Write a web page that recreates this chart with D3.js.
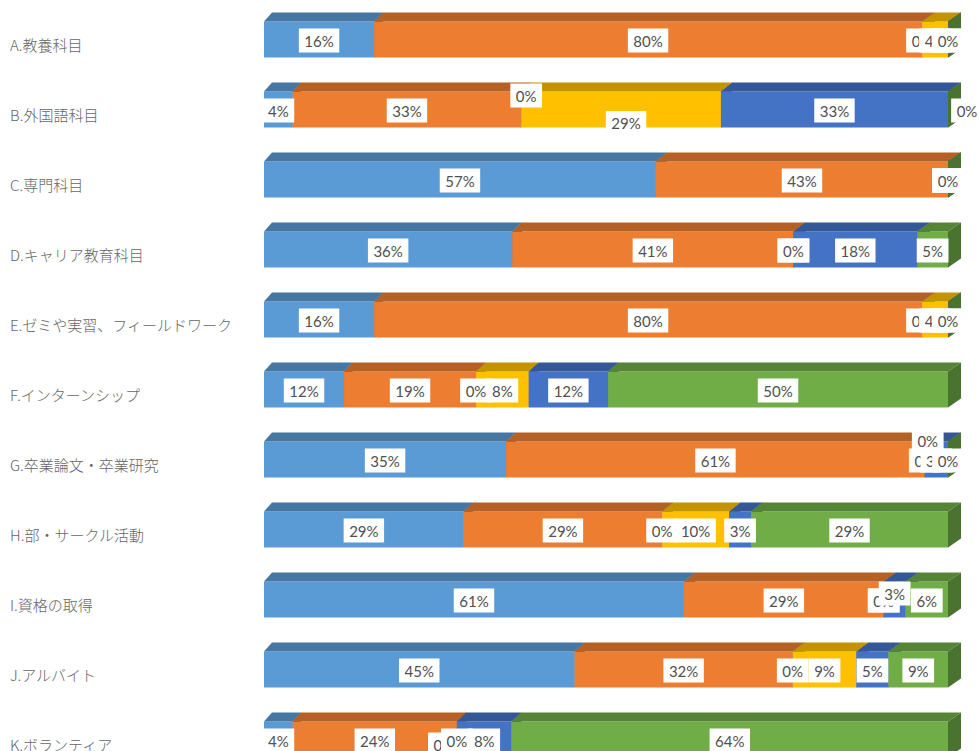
<!DOCTYPE html>
<html>
<head>
<meta charset="utf-8">
<script src="https://cdn.jsdelivr.net/npm/d3@7"></script>
<style>
  body { margin: 0; background: #fff; }
  #chart { width: 979px; height: 751px; overflow: hidden; }
  svg { display: block; }
</style>
</head>
<body>
<div id="chart"></div>
<script>
const categories = [
  "A.教養科目", "B.外国語科目", "C.専門科目", "D.キャリア教育科目",
  "E.ゼミや実習、フィールドワーク", "F.インターンシップ", "G.卒業論文・卒業研究",
  "H.部・サークル活動", "I.資格の取得", "J.アルバイト", "K.ボランティア"
];

const seriesKeys = ["s1", "s2", "s3", "s4", "s5", "s6"];

// percent values per series, one per category
const s1 = [16.1, 4.2, 57.3, 36.3, 16.1, 11.7, 35.4, 29.2, 61.4, 45.4, 4.2];
const s2 = [80.1, 33.4, 42.7, 41.1, 80.1, 19.3, 61.2, 29.0, 29.2, 31.9, 24.0];
const s3 = [0, 0, 0, 0, 0, 0, 0, 0, 0, 0, 0];
const s4 = [3.8, 29.2, 0, 0, 3.8, 7.7, 0, 9.8, 0, 9.3, 0];
const s5 = [0, 33.2, 0, 18.1, 0, 11.6, 3.4, 3.2, 3.2, 4.7, 8.0];
const s6 = [0, 0, 0, 4.5, 0, 49.7, 0, 28.8, 6.2, 8.7, 63.8];

const colors = ["#5B9BD5", "#ED7D31", "#A5A5A5", "#FFC000", "#4472C4", "#70AD47"];

// label moves where Excel pushed overlapping labels around ("row-series": [dx, dy])
const labelNudge = {
  "1-2": [5, -15], "1-3": [5, 12.5], "1-5": [19, 0],
  "6-3": [3, -20],
  "8-4": [0, -7],
  "10-2": [-13, 4]
};

const seriesValues = [s1, s2, s3, s4, s5, s6];
const rows = categories.map((c, i) => {
  const r = { cat: c };
  seriesKeys.forEach((k, j) => (r[k] = seriesValues[j][i]));
  return r;
});

const width = 979, height = 751;
const svg = d3.select("#chart").append("svg")
  .attr("width", width).attr("height", height);

const x = d3.scaleLinear().domain([0, 100]).range([264, 948]);
const y = d3.scaleBand().domain(categories)
  .range([-12.5, 791.5]).paddingInner(34 / 70).paddingOuter(34 / 70);

const depthY = 9;
const depthX = (px) => 8 + 5 * (px - 264) / 684; // a bit of perspective

const stacked = d3.stack().keys(seriesKeys)(rows);

// bars, drawn row by row left to right so later faces cover earlier sides
categories.forEach((cat, i) => {
  const g = svg.append("g").attr("class", "bar-row");
  const y0 = y(cat), h = y.bandwidth();
  stacked.forEach((layer, j) => {
    const x0 = x(layer[i][0]), x1 = x(layer[i][1]);
    const c = d3.color(colors[j]);
    const top = c.darker(0.75).formatHex();
    const side = c.darker(1.15).formatHex();
    g.append("rect")
      .attr("x", x0).attr("y", y0)
      .attr("width", Math.max(0, x1 - x0)).attr("height", h)
      .attr("fill", colors[j]);
    g.append("polygon")
      .attr("points", [
        [x0, y0], [x0 + depthX(x0), y0 - depthY],
        [x1 + depthX(x1), y0 - depthY], [x1, y0]
      ].join(" "))
      .attr("fill", top);
    g.append("polygon")
      .attr("points", [
        [x1, y0], [x1 + depthX(x1), y0 - depthY],
        [x1 + depthX(x1), y0 + h - depthY], [x1, y0 + h]
      ].join(" "))
      .attr("fill", side);
  });
});

// data labels with white boxes
categories.forEach((cat, i) => {
  const g = svg.append("g").attr("class", "labels");
  const cy = y(cat) + y.bandwidth() / 2 + 1;
  stacked.forEach((layer, j) => {
    const v = layer[i].data[seriesKeys[j]];
    const n = labelNudge[i + "-" + j] || [0, 0];
    const cx = (x(layer[i][0]) + x(layer[i][1])) / 2 + n[0];
    const ly = cy + n[1];
    const lg = g.append("g");
    const box = lg.append("rect").attr("fill", "#fff");
    const t = lg.append("text")
      .attr("x", cx).attr("y", ly)
      .attr("text-anchor", "middle")
      .attr("dominant-baseline", "central")
      .style("font-family", "'Lato', sans-serif")
      .style("font-size", "15px")
      .attr("fill", "#505050")
      .text(Math.round(v) + "%");
    const w = t.node().getComputedTextLength() + 11;
    box.attr("x", cx - w / 2).attr("y", ly - 12)
      .attr("width", w).attr("height", 24);
  });
});

// category labels
svg.append("g").selectAll("text")
  .data(categories)
  .join("text")
  .attr("x", 10)
  .attr("y", (d) => y(d) + y.bandwidth() / 2 + 5)
  .attr("dominant-baseline", "central")
  .style("font-family", "'Noto Sans CJK JP', sans-serif")
  .style("font-size", "15px")
  .style("font-weight", 300)
  .attr("fill", "#666")
  .text((d) => d);
</script>
</body>
</html>
